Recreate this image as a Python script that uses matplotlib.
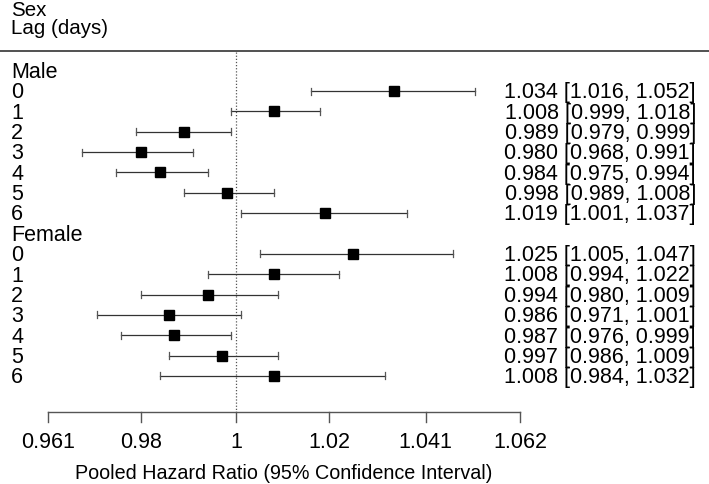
"""Forest plot: pooled hazard ratio by sex and lag (days)."""

import numpy as np
import matplotlib
matplotlib.use("Agg")
import matplotlib.pyplot as plt

plt.rcParams["font.family"] = ["Liberation Sans", "DejaVu Sans"]

# ---------------- data ----------------
groups = ["Male", "Female"]
lags = [0, 1, 2, 3, 4, 5, 6]

male_hr = [1.034, 1.008, 0.989, 0.980, 0.984, 0.998, 1.019]
male_lo = [1.016, 0.999, 0.979, 0.968, 0.975, 0.989, 1.001]
male_hi = [1.052, 1.018, 0.999, 0.991, 0.994, 1.008, 1.037]

female_hr = [1.025, 1.008, 0.994, 0.986, 0.987, 0.997, 1.008]
female_lo = [1.005, 0.994, 0.980, 0.971, 0.976, 0.986, 0.984]
female_hi = [1.047, 1.022, 1.009, 1.001, 0.999, 1.009, 1.032]

tick_hr = [0.961, 0.98, 1, 1.02, 1.041, 1.062]
tick_labels = ["0.961", "0.98", "1", "1.02", "1.041", "1.062"]

# ---------------- layout (pixel space of a 709x484 canvas) ----------------
W, H = 709, 484
X0 = 236.0          # pixel of log(HR) = 0
SCALE = 4720.0      # pixels per unit of log(HR)
ROW = 20.35
Y_MALE = 70.7
BASE = 7.3          # baseline offset below row centre


def px(v):
    return X0 + np.log(np.asarray(v, dtype=float)) * SCALE


fig = plt.figure(figsize=(W / 100, H / 100), dpi=100)
ax = fig.add_axes([0, 0, 1, 1])
ax.set_xlim(0, W)
ax.set_ylim(H, 0)
ax.axis("off")

FS = 15.5
# header
ax.text(11, 15.5, "Sex", fontsize=14.8, va="baseline", ha="left")
ax.text(11, 33.5, "Lag (days)", fontsize=14.8, va="baseline", ha="left")
ax.plot([0, W], [50.7, 50.7], color="#333333", lw=1.2)

# reference line at HR = 1
ax.plot([px(1), px(1)], [52, 412], color="#555555", lw=0.9, ls=(0, (1, 1.5)))

series = [(male_hr, male_lo, male_hi), (female_hr, female_lo, female_hi)]
y = Y_MALE
for g, (hr, lo, hi) in zip(groups, series):
    ax.text(11, y + BASE, g, fontsize=FS, va="baseline", ha="left")
    y += ROW
    for lag, h, l, u in zip(lags, hr, lo, hi):
        ax.text(11, y + BASE, str(lag), fontsize=FS, va="baseline", ha="left")
        xl, xh, xm = px(l), px(u), px(h)
        ax.plot([xl, xh], [y, y], color="#333333", lw=0.9)
        ax.plot([xl, xl], [y - 3.5, y + 3.5], color="#555555", lw=0.9)
        ax.plot([xh, xh], [y - 3.5, y + 3.5], color="#555555", lw=0.9)
        ax.plot([xm], [y], marker="s", ms=7, color="black", mec="black")
        ax.text(696, y + BASE, f"{h:.3f} [{l:.3f}, {u:.3f}]", fontsize=FS,
                va="baseline", ha="right")
        y += ROW

# x axis
tx = px(tick_hr)
ax.plot([tx[0], tx[-1]], [412, 412], color="#555555", lw=1.0)
for x, lab in zip(tx, tick_labels):
    ax.plot([x, x], [412, 422], color="#555555", lw=1.0)
    ax.text(x, 448, lab, fontsize=FS, va="baseline", ha="center")
ax.text((tx[0] + tx[-1]) / 2, 479, "Pooled Hazard Ratio (95% Confidence Interval)",
        fontsize=14.2, va="baseline", ha="center")

fig.savefig("out.png", dpi=100)
